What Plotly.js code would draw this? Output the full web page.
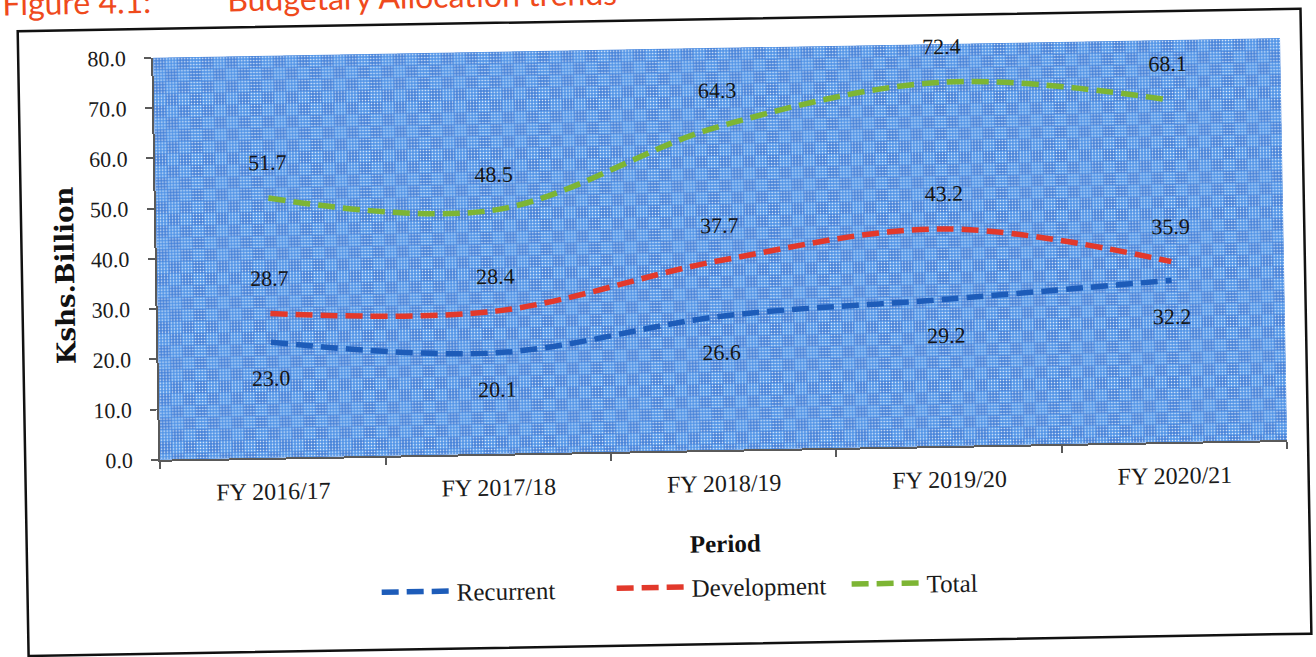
<!DOCTYPE html>
<html><head><meta charset="utf-8">
<script src="https://cdn.plot.ly/plotly-3.0.1.min.js"></script>
<style>
html,body{margin:0;padding:0;width:1316px;height:657px;overflow:hidden;background:#fff;}
#chart{position:absolute;left:-20px;top:-30px;width:1356px;height:717px;transform:rotate(-1deg);transform-origin:678px 358.5px;}
</style></head><body><div id="chart"></div>
<script>
// ---- data ----
const periods = ['FY 2016/17', 'FY 2017/18', 'FY 2018/19', 'FY 2019/20', 'FY 2020/21'];
const recurrent = [23.0, 20.1, 26.6, 29.2, 32.2];
const development = [28.7, 28.4, 37.7, 43.2, 35.9];
const total = [51.7, 48.5, 64.3, 72.4, 68.1];
const seriesNames = ['Recurrent', 'Development', 'Total'];
const yTicks = [0, 10, 20, 30, 40, 50, 60, 70, 80];

// ---- styles ----
const seriesValues = [recurrent, development, total];
const seriesColors = ['#1d5cb9', '#e2392b', '#7db534'];
const labelShift = [-36, 35, 36];
const serif = 'Liberation Serif, Times New Roman, serif';

const traces = seriesNames.map((name, k) => ({
  type: 'scatter', mode: 'lines', name: name,
  x: periods, y: seriesValues[k],
  line: {color: seriesColors[k], width: 5.5, dash: '17px,8px', shape: 'spline', smoothing: 1},
  hoverinfo: 'x+y+name'
}));

const annotations = [];
seriesValues.forEach((vals, k) => {
  vals.forEach((v, i) => {
    annotations.push({
      x: periods[i], y: v, xref: 'x', yref: 'y', text: v.toFixed(1),
      showarrow: false, yshift: labelShift[k],
      font: {family: serif, size: 22, color: '#151515'}
    });
  });
});
// y-axis title
annotations.push({xref: 'paper', yref: 'paper', x: -0.0816, y: 0.463, xanchor: 'center', yanchor: 'middle',
  text: '<b>Kshs.Billion</b>', textangle: -90, showarrow: false,
  font: {family: 'DejaVu Serif, serif', size: 26, color: '#111'}});
// cut-off figure caption at the top of the scan
annotations.push({xref: 'paper', yref: 'paper', x: -0.135, y: 1.142, xanchor: 'left', yanchor: 'middle',
  text: 'Figure 4.1:', showarrow: false, font: {family: 'Lato, Noto Sans, sans-serif', size: 32, color: '#ef4a1c'}});
annotations.push({xref: 'paper', yref: 'paper', x: 0.065, y: 1.144, xanchor: 'left', yanchor: 'middle',
  text: 'Budgetary Allocation trends', showarrow: false, font: {family: 'Lato, Noto Sans, sans-serif', size: 32, color: '#ef4a1c'}});

const pat = "<svg xmlns='http://www.w3.org/2000/svg' width='1127' height='402'>" +
  "<defs><pattern id='c' width='24' height='24' patternUnits='userSpaceOnUse'>" +
  "<rect width='24' height='24' fill='#4a90e6'/>" +
  "<rect width='12' height='12' fill='#2d62c2' opacity='0.4'/>" +
  "<rect x='12' y='12' width='12' height='12' fill='#2d62c2' opacity='0.4'/></pattern>" +
  "<pattern id='d' width='3' height='3' patternUnits='userSpaceOnUse'>" +
  "<rect x='0.75' y='0.75' width='1.5' height='1.5' fill='#ffffff' opacity='0.85'/></pattern></defs>" +
  "<rect width='100%' height='100%' fill='url(#c)'/><rect width='100%' height='100%' fill='url(#d)'/></svg>";

const layout = {
  width: 1356, height: 717,
  margin: {l: 178, r: 51, t: 79, b: 236, autoexpand: false},
  paper_bgcolor: '#ffffff', plot_bgcolor: '#679ae2',
  font: {family: serif, size: 22, color: '#1a1a1a'},
  showlegend: true,
  legend: {orientation: 'h', x: 0.19, y: -0.34, xanchor: 'left', yanchor: 'middle',
    font: {family: serif, size: 25, color: '#1a1a1a'}, itemwidth: 70,
    entrywidth: 150, entrywidthmode: 'pixels', bgcolor: 'rgba(0,0,0,0)'},
  xaxis: {
    type: 'category', range: [-0.5, 4.5], tickson: 'boundaries',
    ticks: 'outside', ticklen: 7, tickwidth: 2, tickcolor: '#5a5a5a',
    showline: true, linecolor: '#5a5a5a', linewidth: 2, showgrid: false,
    tickfont: {family: serif, size: 24, color: '#1a1a1a'}, ticklabelstandoff: 11,
    title: {text: '<b>Period</b>', standoff: 39, font: {family: serif, size: 25, color: '#111'}}
  },
  yaxis: {
    range: [0, 80], tickvals: yTicks, tickformat: '.1f',
    ticks: 'outside', ticklen: 7, tickwidth: 2, tickcolor: '#5a5a5a',
    showline: true, linecolor: '#5a5a5a', linewidth: 2, showgrid: false, zeroline: false,
    tickfont: {family: serif, size: 22, color: '#1a1a1a'}, ticklabelstandoff: 14
  },
  images: [{source: 'data:image/svg+xml;charset=utf-8,' + encodeURIComponent(pat),
    xref: 'paper', yref: 'paper', x: 0, y: 1, sizex: 1, sizey: 1,
    sizing: 'stretch', xanchor: 'left', yanchor: 'top', layer: 'below'}],
  shapes: [{type: 'rect', xref: 'paper', yref: 'paper', x0: -0.1198, x1: 1.0186, y0: -0.4826, y1: 1.072,
    line: {color: '#111', width: 2.5}, fillcolor: 'rgba(0,0,0,0)', layer: 'below'}],
  annotations: annotations
};

Plotly.newPlot('chart', traces, layout, {displayModeBar: false, staticPlot: true});
</script></body></html>
